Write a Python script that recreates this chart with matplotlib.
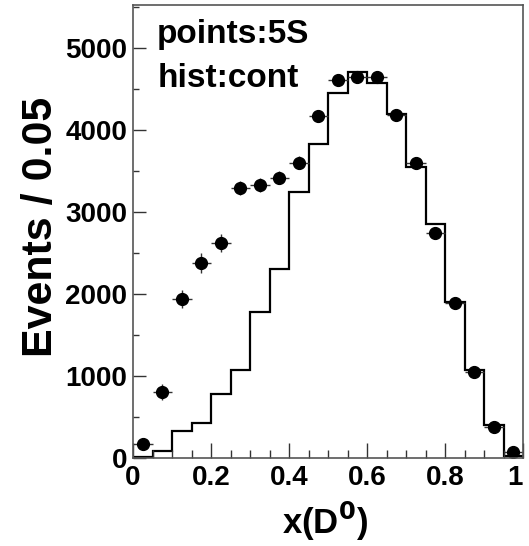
import matplotlib
matplotlib.use('Agg')
import matplotlib.pyplot as plt
import matplotlib.transforms as mtransforms
import numpy as np

plt.rcParams['font.family'] = ['Liberation Sans', 'DejaVu Sans']
plt.rcParams['font.weight'] = 'bold'

# bins of 0.05 over x(D0) in [0,1]
edges = np.linspace(0, 1, 21)
centers = 0.5 * (edges[1:] + edges[:-1])

hist_cont = [12, 90, 325, 427, 785, 1070, 1775, 2300, 3240, 3825,
             4445, 4705, 4567, 4187, 3550, 2848, 1897, 1072, 408, 25]
points_5s = [170, 805, 1938, 2375, 2625, 3295, 3325, 3418, 3596, 4166,
             4612, 4648, 4648, 4175, 3600, 2739, 1890, 1048, 380, 77]
points_err = [45, 95, 105, 120, 110, 85, 85, 80, 80, 70,
              60, 60, 60, 60, 55, 50, 45, 40, 35, 25]

fig = plt.figure(figsize=(5.29, 5.46), dpi=100)
ax = fig.add_axes([133/529, 88/546, 390/529, 453/546])

ax.stairs(hist_cont, edges, color='black', lw=1.6, baseline=0)
ax.errorbar(centers, points_5s, yerr=points_err, xerr=0.025, fmt='o',
            color='black', ms=8.5, elinewidth=1.0, ecolor='#333333', capsize=0)

ax.set_xlim(0, 1)
ax.set_ylim(0, 5520)
ax.set_xticks([0, 0.2, 0.4, 0.6, 0.8, 1])
ax.set_xticklabels(['0', '0.2', '0.4', '0.6', '0.8', '1'])
ax.set_xticks(np.arange(0, 1.001, 0.05), minor=True)
ax.set_yticks([0, 1000, 2000, 3000, 4000, 5000])
ax.set_yticks(np.arange(0, 5501, 500), minor=True)

ax.tick_params(axis='both', which='both', direction='in', labelsize=20, width=1.0, color='#333333')
ax.tick_params(axis='x', which='major', length=10.5, pad=5)
ax.tick_params(axis='x', which='minor', length=5.5)
ax.tick_params(axis='y', which='major', length=9.5, pad=4)
ax.tick_params(axis='y', which='minor', length=4.5)
for lab in ax.get_xticklabels() + ax.get_yticklabels():
    lab.set_fontweight('bold')
# last x label sits a bit inside the frame, as in the original
last = ax.get_xticklabels()[-1]
last.set_transform(last.get_transform() + mtransforms.ScaledTranslation(-8/100, 0, fig.dpi_scale_trans))

for sp in ax.spines.values():
    sp.set_color('#555555')
    sp.set_linewidth(1.2)

ax.set_ylabel('Events / 0.05', fontsize=31, fontweight='bold')
ax.yaxis.set_label_coords(-0.185, 0.511)
ax.set_xlabel(r'x(D$^{\mathbf{0}}$)', fontsize=25, fontweight='bold')
ax.xaxis.set_label_coords(0.492, -0.093)

ax.text(0.062, 0.917, 'points:5S', transform=ax.transAxes, fontsize=24, fontweight='bold')
ax.text(0.062, 0.818, 'hist:cont', transform=ax.transAxes, fontsize=24, fontweight='bold')

fig.savefig('out.png', dpi=100)
